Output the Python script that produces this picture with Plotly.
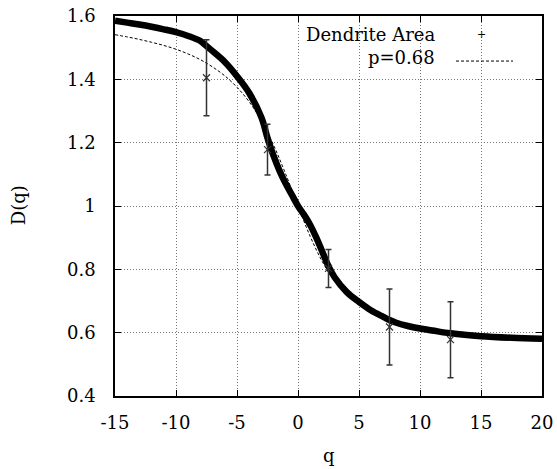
import plotly.graph_objects as go

# Thick curve: Dendrite Area D(q)
q_fit = [-15, -14, -13, -12, -11, -10, -9, -8, -7.5, -7, -6, -5, -4, -3, -2.5, -2, -1.5, -1, -0.5,
         0, 0.5, 1, 1.5, 2, 2.5, 3, 4, 5, 6, 7, 7.5, 8, 9, 10, 11, 12.5, 15, 17.5, 20]
d_fit = [1.585, 1.579, 1.573, 1.566, 1.558, 1.549, 1.537, 1.521, 1.505, 1.489, 1.455, 1.41, 1.357,
         1.28, 1.215, 1.158, 1.11, 1.07, 1.035, 1.0, 0.972, 0.94, 0.9, 0.855, 0.81, 0.775, 0.728,
         0.697, 0.67, 0.65, 0.64, 0.632, 0.621, 0.613, 0.607, 0.598, 0.589, 0.584, 0.581]

# Dashed curve: p=0.68
q_p = list(range(-15, 21))
d_p = [1.541, 1.534, 1.526, 1.517, 1.507, 1.495, 1.480, 1.462, 1.439, 1.411, 1.375, 1.329, 1.269,
       1.192, 1.100, 1.000, 0.904, 0.824, 0.763, 0.719, 0.687, 0.665, 0.648, 0.635, 0.626, 0.618,
       0.612, 0.607, 0.603, 0.599, 0.596, 0.594, 0.591, 0.589, 0.587, 0.586]

# Data points with error bars
q_pts = [-7.5, -2.5, 2.5, 7.5, 12.5]
d_pts = [1.405, 1.178, 0.803, 0.618, 0.578]
d_err = [0.12, 0.08, 0.06, 0.12, 0.12]

x_ticks = [-15, -10, -5, 0, 5, 10, 15, 20]
x_labels = ["-15", "-10", "-5", "0", "5", "10", "15", "20"]
y_ticks = [0.4, 0.6, 0.8, 1.0, 1.2, 1.4, 1.6]
y_labels = ["0.4", "0.6", "0.8", "1", "1.2", "1.4", "1.6"]

FONT = "DejaVu Serif"
FS = 18

fig = go.Figure()
fig.add_trace(go.Scatter(x=q_p, y=d_p, mode="lines", line=dict(color="black", width=1, dash="3px,2px", shape="spline"),
                         showlegend=False))
fig.add_trace(go.Scatter(x=q_fit, y=d_fit, mode="lines", line=dict(color="black", width=6.5, shape="spline"),
                         showlegend=False))
fig.add_trace(go.Scatter(x=q_pts, y=d_pts, mode="markers",
                         marker=dict(symbol="x-thin", size=7, line=dict(color="#333333", width=1.2)),
                         error_y=dict(type="data", array=d_err, visible=True, color="#333333", thickness=1.5, width=3),
                         showlegend=False))

axis_common = dict(showline=True, linecolor="black", linewidth=1.5, mirror="ticks", ticks="inside",
                   ticklen=6, tickcolor="black", tickwidth=1, showgrid=True, gridcolor="#777777",
                   griddash="1px,2px", gridwidth=1, zeroline=False, automargin=False,
                   tickfont=dict(family=FONT, size=FS, color="black"))

fig.update_layout(
    width=557, height=469,
    margin=dict(l=115, r=15, t=16, b=73, autoexpand=False),
    paper_bgcolor="white", plot_bgcolor="white",
    font=dict(family=FONT, size=FS, color="black"),
    xaxis=dict(range=[-15, 20], tickvals=x_ticks, ticktext=x_labels, ticklabelstandoff=10, **axis_common),
    yaxis=dict(range=[0.4, 1.6], tickvals=y_ticks, ticktext=y_labels, ticklabelstandoff=14, **axis_common),
    annotations=[
        dict(text="q", xref="paper", yref="paper", x=0.5, y=(395.5 - 455) / 379.5, xanchor="center",
             yanchor="middle", showarrow=False, font=dict(family=FONT, size=FS, color="black")),
        dict(text="D(q)", xref="paper", yref="paper", x=(18 - 115) / 427, y=(395.5 - 205) / 379.5,
             xanchor="center", yanchor="middle", textangle=-90, showarrow=False,
             font=dict(family=FONT, size=FS, color="black")),
        dict(text="Dendrite Area", xref="paper", yref="paper", x=(437 - 115) / 427, y=(395.5 - 34) / 379.5,
             xanchor="right", yanchor="middle", showarrow=False, font=dict(family=FONT, size=FS, color="black")),
        dict(text="p=0.68", xref="paper", yref="paper", x=(437 - 115) / 427, y=(395.5 - 57) / 379.5,
             xanchor="right", yanchor="middle", showarrow=False, font=dict(family=FONT, size=FS, color="black")),
        dict(text="+", xref="paper", yref="paper", x=(481 - 115) / 427, y=(395.5 - 34) / 379.5,
             xanchor="center", yanchor="middle", showarrow=False, font=dict(family=FONT, size=11, color="black")),
    ],
    shapes=[
        dict(type="line", xref="paper", yref="paper", x0=(456 - 115) / 427, x1=(513 - 115) / 427,
             y0=(395.5 - 61) / 379.5, y1=(395.5 - 61) / 379.5, line=dict(color="black", width=1, dash="3px,2px")),
    ],
)

fig.write_html("out.html")
